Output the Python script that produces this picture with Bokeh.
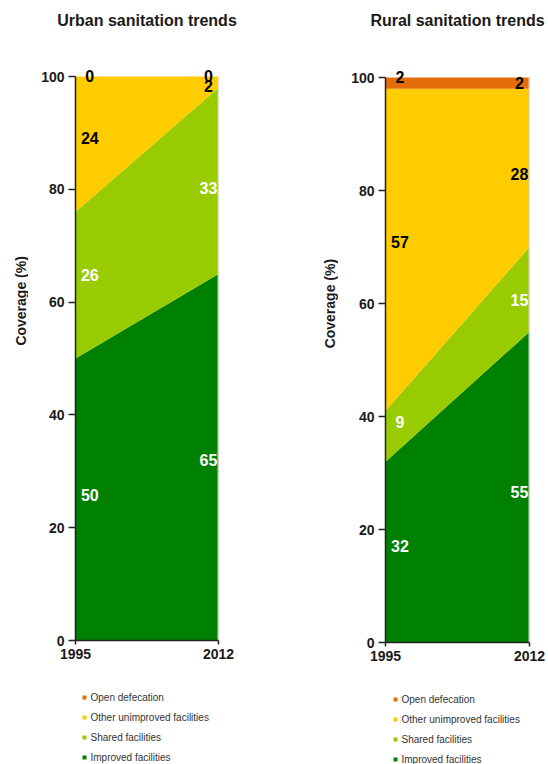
import math
from bokeh.plotting import figure
from bokeh.models import Range1d, FixedTicker, Label
from bokeh.layouts import row, column
from bokeh.core.properties import value
from bokeh.embed import file_html
from bokeh.resources import INLINE

# Survey years
years = [1995, 2012]

# Sanitation categories, listed top of the stack first (legend order)
categories = ["Open defecation", "Other unimproved facilities",
              "Shared facilities", "Improved facilities"]
colors = ["#E46C0A", "#FFCC00", "#99CC00", "#008000"]
label_colors = ["black", "black", "white", "white"]

# Urban coverage (%)
urban_open = [0, 0]
urban_other = [24, 2]
urban_shared = [26, 33]
urban_improved = [50, 65]

# Rural coverage (%)
rural_open = [2, 2]
rural_other = [57, 28]
rural_shared = [9, 15]
rural_improved = [32, 55]

y_ticks = [0, 20, 40, 60, 80, 100]
y_title = "Coverage (%)"

FONT = "Liberation Sans"
TEXT = "#1a1a1a"
W = 274
TITLE_H = 40
CHART_H = 636
LEGEND_H = 88
LABEL_POS = [0.1, 0.93]   # horizontal position of value labels across the plot


def blank(width, height):
    # a figure whose frame fills it, with y growing downwards in pixels
    p = figure(width=width, height=height, output_backend="svg", toolbar_location=None,
               x_range=Range1d(0, width), y_range=Range1d(height, 0),
               x_axis_type=None, y_axis_type=None,
               min_border=0, min_border_left=0, min_border_right=0,
               min_border_top=0, min_border_bottom=0)
    p.outline_line_color = None
    p.grid.visible = False
    return p


def title_panel(text, cx):
    p = blank(W, TITLE_H)
    p.text(x=[cx], y=[20], text=[text], text_align="center", text_baseline="middle",
           text_font=value(FONT), text_font_size=value("16px"),
           text_font_style="bold", text_color=TEXT)
    return p


def ytitle_panel(width, cx, cy):
    p = blank(width, CHART_H)
    p.text(x=[cx], y=[cy], text=[y_title], angle=math.pi / 2,
           text_align="center", text_baseline="middle",
           text_font=value(FONT), text_font_size=value("14px"),
           text_font_style="bold", text_color=TEXT)
    return p


def legend_panel(mark_x, top_row):
    p = blank(W, LEGEND_H)
    ys = [top_row + 20 * i for i in range(len(categories))]
    p.scatter(x=[mark_x] * len(categories), y=ys, marker="square", size=4,
              fill_color=colors, line_color=None)
    p.text(x=[mark_x + 6] * len(categories), y=ys, text=categories,
           text_align="left", text_baseline="middle",
           text_font=value(FONT), text_font_size=value("10px"), text_color="#333333")
    return p


def chart_panel(series, width, left, right, top, bottom):
    # frame spans the full height above the x axis; 100 % sits `top` px below its top edge
    frame_h = CHART_H - bottom
    y_end = 100 * frame_h / (frame_h - top)
    p = figure(width=width, height=CHART_H, output_backend="svg", toolbar_location=None,
               x_range=Range1d(years[0], years[-1]), y_range=Range1d(0, y_end),
               min_border_left=left, min_border_right=right,
               min_border_top=0, min_border_bottom=bottom,
               background_fill_color="white", border_fill_color="white")
    p.outline_line_color = None
    p.xgrid.grid_line_color = None
    p.ygrid.grid_line_color = None

    # stacked areas, bottom (improved) to top (open defecation)
    order = list(range(len(categories)))[::-1]
    base = [0] * len(years)
    lows, highs = {}, {}
    for k in order:
        upper = [b + v for b, v in zip(base, series[k])]
        p.varea(x=years, y1=base, y2=upper, fill_color=colors[k])
        lows[k], highs[k] = list(base), upper
        base = upper

    # light plot-area edge on the right
    p.segment(x0=[years[-1]], y0=[0], x1=[years[-1]], y1=[100],
              line_color="#d0d0d0", line_width=2)

    # value labels, centred in their band at the label's horizontal position
    span = years[-1] - years[0]
    for k in range(len(categories)):
        for i, v in enumerate(series[k]):
            t = LABEL_POS[i]
            lo = lows[k][0] + (lows[k][1] - lows[k][0]) * t
            hi = highs[k][0] + (highs[k][1] - highs[k][0]) * t
            if v == 0 or (k == 0 and i == 0):
                y, baseline, y_off = 100, "alphabetic", 1
            else:
                y, baseline, y_off = (lo + hi) / 2, "middle", 0
            p.add_layout(Label(x=years[0] + span * t, y=y, y_offset=y_off,
                               text=str(v), text_align="center", text_baseline=baseline,
                               text_font=FONT, text_font_size="16px",
                               text_font_style="bold", text_color=label_colors[k]))

    # axes
    p.yaxis.ticker = FixedTicker(ticks=y_ticks)
    p.yaxis.bounds = (0, 100)
    p.xaxis.ticker = FixedTicker(ticks=years)
    for ax in (p.xaxis, p.yaxis):
        ax.axis_line_color = "#222222"
        ax.axis_line_width = 1.5
        ax.major_tick_line_color = "#222222"
        ax.major_tick_line_width = 1.5
        ax.major_tick_in = 0
        ax.minor_tick_line_color = None
        ax.major_label_text_font = FONT
        ax.major_label_text_font_size = "14px"
        ax.major_label_text_font_style = "bold"
        ax.major_label_text_color = TEXT
    p.yaxis.major_tick_out = 7
    p.yaxis.major_label_standoff = 4
    p.xaxis.major_tick_out = 4
    p.xaxis.major_label_standoff = 4
    return p


urban = column(
    title_panel("Urban sanitation trends", 146.5),
    row(ytitle_panel(28, 20, 276),
        chart_panel([urban_open, urban_other, urban_shared, urban_improved],
                    W - 28, 47, 56, 36, 36),
        spacing=0),
    legend_panel(84, 21),
    spacing=0)
rural = column(
    title_panel("Rural sanitation trends", 183),
    row(ytitle_panel(64, 55, 278),
        chart_panel([rural_open, rural_other, rural_shared, rural_improved],
                    W - 64, 47, 19, 37, 34),
        spacing=0),
    legend_panel(121, 23),
    spacing=0)

layout = row(urban, rural, spacing=0)
open("out.html", "w").write(file_html(layout, INLINE))
